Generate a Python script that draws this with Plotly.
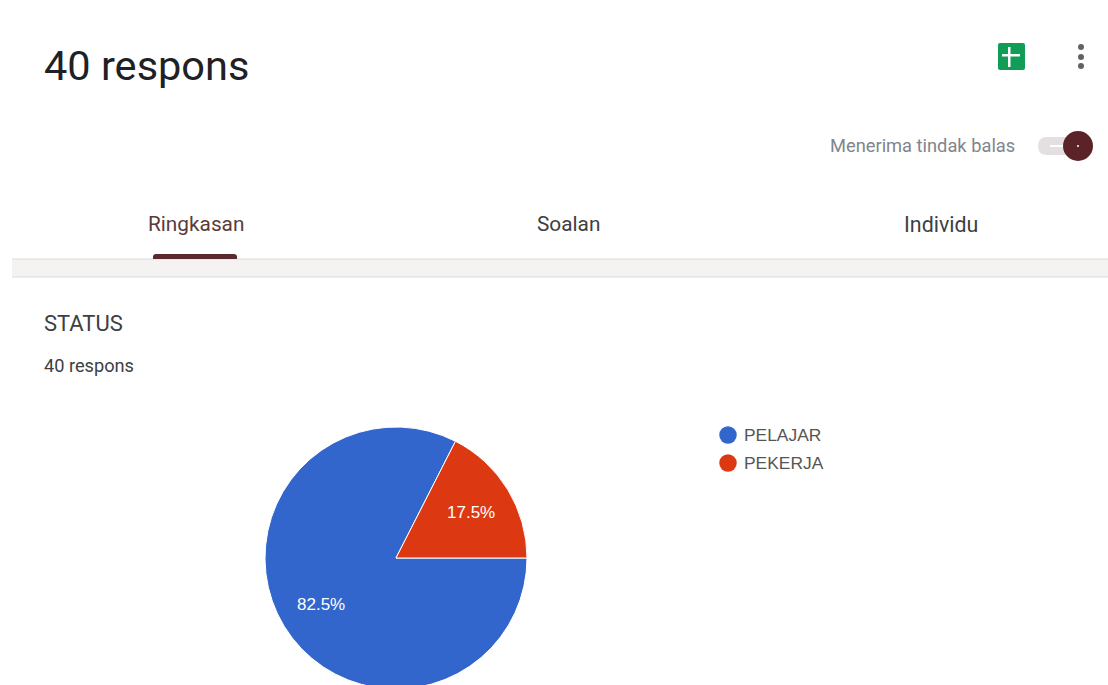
import plotly.graph_objects as go

# Survey results: STATUS question
categories = ["PELAJAR", "PEKERJA"]
responses = [33, 7]
slice_colors = ["#3366cc", "#dc3912"]
tab_labels = ["Ringkasan", "Soalan", "Individu"]
page_title = "40 respons"
question_title = "STATUS"
toggle_label = "Menerima tindak balas"

W, H = 1108, 700
percent_labels = [f"{v / sum(responses):.1%}" for v in responses]


def label(x, y, text, size, color, family="Roboto", anchor="left", weight=None):
    return dict(x=x, y=y, xref="x", yref="y", text=text, showarrow=False, xanchor=anchor,
                yanchor="middle", font=dict(size=size, color=color, family=family, weight=weight))


def box(x0, y0, x1, y1, fill, line="rgba(0,0,0,0)", kind="rect", width=0):
    return dict(type=kind, xref="x", yref="y", x0=x0, y0=y0, x1=x1, y1=y1,
                fillcolor=fill, line=dict(color=line, width=width), layer="below")


def path(d, fill):
    return dict(type="path", xref="x", yref="y", path=d, fillcolor=fill,
                line=dict(width=0), layer="below")


fig = go.Figure()

# Pie, rotated so that the first slice starts at three o'clock
fig.add_trace(go.Pie(
    labels=categories, values=responses, sort=False, direction="clockwise", rotation=90,
    marker=dict(colors=slice_colors, line=dict(color="white", width=1)),
    textinfo="none", showlegend=False, hoverinfo="label+percent",
    domain=dict(x=[265 / W, 527 / W], y=[(H - 689) / H, (H - 427) / H]),
))

# Legend entries
for i, (name, color) in enumerate(zip(categories, slice_colors)):
    fig.add_trace(go.Scatter(x=[728], y=[435 + 28 * i], mode="markers", showlegend=False,
                             marker=dict(size=17.5, color=color), name=name, hoverinfo="skip"))

shapes = [
    # section band under the tabs
    box(12, 259, 1108, 277, "#f4f3f2"),
    dict(type="line", xref="x", yref="y", x0=12, x1=1108, y0=259, y1=259,
         line=dict(color="#dcdcdc", width=1), layer="below"),
    dict(type="line", xref="x", yref="y", x0=12, x1=1108, y0=277, y1=277,
         line=dict(color="#dcdcdc", width=1), layer="below"),
    # active tab underline
    path("M153,259 L153,257 Q153,254 156,254 L234,254 Q237,254 237,257 L237,259 Z", "#5b2a2e"),
    # spreadsheet button
    path("M1000,43 L1023,43 Q1025,43 1025,45 L1025,68 Q1025,70 1023,70 L1000,70 "
         "Q998,70 998,68 L998,45 Q998,43 1000,43 Z", "#0f9d58"),
    box(1002, 54, 1020, 56.5, "white"),
    box(1008, 47, 1010.5, 67, "white"),
    # overflow menu dots
    box(1078, 44, 1084, 50, "#5f6368", kind="circle"),
    box(1078, 54, 1084, 60, "#5f6368", kind="circle"),
    box(1078, 63, 1084, 69, "#5f6368", kind="circle"),
    # toggle
    path("M1047,137 L1072,137 L1072,155 L1047,155 Q1038,155 1038,146 Q1038,137 1047,137 Z", "#e4e0e1"),
    box(1050, 145, 1064, 147, "white"),
    box(1063, 131, 1093, 161, "#5b2327", kind="circle"),
    box(1077, 145, 1079, 147, "white", kind="circle"),
]

annotations = [
    label(42, 65, page_title, 41.5, "#202124"),
    label(828, 145, toggle_label, 18.3, "#80868b"),
    label(196, 224, tab_labels[0], 20.8, "#5b3a3c", anchor="center"),
    label(568.5, 224, tab_labels[1], 20.8, "#3c4043", anchor="center"),
    label(941, 224, tab_labels[2], 21.4, "#3c4043", anchor="center"),
    label(42, 323, question_title, 22, "#3c4043"),
    label(42, 365, page_title, 18.2, "#3c4043"),
    label(742, 435, categories[0], 17.4, "#555555", family="Liberation Sans"),
    label(742, 463, categories[1], 17.4, "#555555", family="Liberation Sans"),
    label(321, 604, percent_labels[0], 17, "white", family="Liberation Sans", anchor="center"),
    label(470.5, 512, percent_labels[1], 17, "white", family="Liberation Sans", anchor="center"),
]

fig.update_layout(
    width=W, height=H, autosize=False, margin=dict(l=0, r=0, t=0, b=0),
    paper_bgcolor="white", plot_bgcolor="rgba(0,0,0,0)",
    xaxis=dict(range=[0, W], visible=False, fixedrange=True),
    yaxis=dict(range=[H, 0], visible=False, fixedrange=True),
    shapes=shapes, annotations=annotations,
)

# The pie runs past the bottom of the window, so the page itself must not scroll
fig.write_html("out.html", config=dict(displayModeBar=False),
               post_script="document.documentElement.style.overflow='hidden';document.body.style.overflow='hidden';")
